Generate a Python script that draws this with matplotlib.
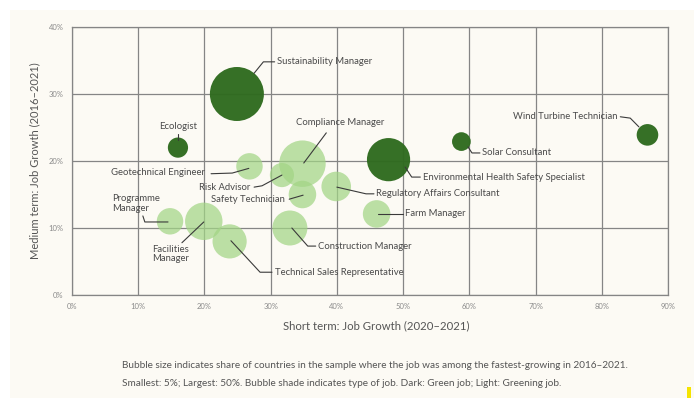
import matplotlib
matplotlib.use("Agg")
import matplotlib.pyplot as plt
from matplotlib.patches import Rectangle

plt.rcParams['font.family'] = ['Lato', 'DejaVu Sans']

# ---- data ----
jobs = ["Sustainability Manager", "Ecologist", "Geotechnical Engineer", "Compliance Manager",
        "Risk Advisor", "Safety Technician", "Regulatory Affairs Consultant", "Farm Manager",
        "Environmental Health Safety Specialist", "Solar Consultant", "Wind Turbine Technician",
        "Programme\nManager", "Facilities\nManager", "Technical Sales Representative",
        "Construction Manager"]
short_term = [24.9, 16.0, 26.8, 34.8, 31.7, 34.8, 39.9, 46.0, 47.8, 58.8, 86.9, 14.8, 19.9, 23.8, 32.9]
medium_term = [30.0, 22.0, 19.2, 19.6, 17.9, 15.0, 16.2, 12.1, 20.2, 22.9, 23.9, 11.0, 11.0, 8.0, 10.0]
share = [50, 7, 12, 37, 10, 13, 15, 13, 32, 6, 8, 12, 24, 20, 21]
job_type = ["Green", "Green", "Greening", "Greening", "Greening", "Greening", "Greening", "Greening",
            "Green", "Green", "Green", "Greening", "Greening", "Greening", "Greening"]
x_ticks = [0, 10, 20, 30, 40, 50, 60, 70, 80, 90]
y_ticks = [0, 10, 20, 30, 40]

# ---- label layout (text anchor, alignment, leader path) ----
labels = [
    ((31.0, 34.8), 'left', [(30.6, 34.8), (28.9, 34.8), (27.5, 33.1)]),
    ((16.0, 25.1), 'center', [(16.0, 24.1), (16.0, 23.2)]),
    ((20.1, 18.3), 'right', [(21.0, 18.1), (24.2, 18.2), (26.7, 18.9)]),
    ((40.5, 25.7), 'center', [(38.4, 24.2), (35.0, 19.7)]),
    ((26.9, 16.1), 'right', [(27.5, 16.1), (28.7, 16.3), (31.7, 17.9)]),
    ((32.2, 14.3), 'right', [(32.8, 14.3), (34.9, 14.9)]),
    ((45.9, 15.1), 'left', [(40.0, 16.1), (44.4, 15.1), (45.6, 15.1)]),
    ((50.3, 12.1), 'left', [(46.2, 12.1), (50.0, 12.1)]),
    ((53.0, 17.6), 'left', [(50.3, 19.1), (51.3, 17.6), (52.6, 17.6)]),
    ((61.9, 21.2), 'left', [(59.8, 22.1), (60.4, 21.2), (61.6, 21.2)]),
    ((82.3, 26.6), 'right', [(82.8, 26.6), (84.3, 26.4), (85.6, 25.1)]),
    ((6.0, 13.7), 'left', [(10.7, 11.8), (11.0, 10.9), (14.5, 10.9)]),
    ((12.1, 6.1), 'left', [(16.6, 7.8), (19.9, 10.9)]),
    ((30.7, 3.4), 'left', [(24.0, 8.1), (28.4, 3.4), (30.2, 3.4)]),
    ((37.1, 7.3), 'left', [(33.2, 10.0), (35.6, 7.3), (36.8, 7.3)]),
]

W, H = 694, 398
fig = plt.figure(figsize=(W / 100, H / 100), dpi=100)
fig.patch.set_facecolor('white')
cream = '#fcfaf4'
fig.add_artist(Rectangle((10 / W, 0), 1, 1 - 10 / H, transform=fig.transFigure,
                         facecolor=cream, edgecolor='none', zorder=0))
fig.add_artist(Rectangle((687 / W, 0), 4 / W, 11 / H, transform=fig.transFigure,
                         facecolor='#f5e400', edgecolor='none', zorder=1))

ax = fig.add_axes([72 / W, 1 - 295 / H, (668 - 72) / W, (295 - 27) / H])
ax.set_facecolor(cream)
ax.set_xlim(0, 90)
ax.set_ylim(0, 40)
ax.set_xticks(x_ticks)
ax.set_yticks(y_ticks)
ax.set_xticklabels([f"{v}%" for v in x_ticks])
ax.set_yticklabels([f"{v}%" for v in y_ticks])
ax.tick_params(length=0, labelsize=5.5, colors='#8a8a8a', pad=6)
ax.grid(True, color='#858585', linewidth=0.9)
ax.set_axisbelow(True)
for s in ax.spines.values():
    s.set_color('#858585')
    s.set_linewidth(0.9)

dark = '#2f6b1f'
light = '#a2d585'
scale = 1512 / 50
for x, y, sh, t in zip(short_term, medium_term, share, job_type):
    if t == "Green":
        ax.scatter(x, y, s=sh * scale, color=dark, alpha=0.97, edgecolors='none', zorder=3)
    else:
        ax.scatter(x, y, s=sh * scale, color=light, alpha=0.72, edgecolors='none', zorder=3)

tc = '#4a4a4a'
for name, (pos, ha, path) in zip(jobs, labels):
    ax.text(pos[0], pos[1], name, ha=ha, va='center', fontsize=6.8, color=tc,
            zorder=5, linespacing=1.1)
    xs = [p[0] for p in path]
    ys = [p[1] for p in path]
    ax.plot(xs, ys, color='#3a3a3a', linewidth=0.8, zorder=4, solid_capstyle='round')

fig.text(35 / W, 1 - 161 / H, "Medium term: Job Growth (2016–2021)", rotation=90,
         ha='center', va='center', fontsize=8, color='#555555')
fig.text(376 / W, 1 - 326 / H, "Short term: Job Growth (2020–2021)",
         ha='center', va='center', fontsize=8.2, color='#555555')
fig.text(122 / W, 1 - 366 / H,
         "Bubble size indicates share of countries in the sample where the job was among the fastest-growing in 2016–2021.",
         ha='left', va='center', fontsize=7.2, color='#555555')
fig.text(122 / W, 1 - 383 / H,
         "Smallest: 5%; Largest: 50%. Bubble shade indicates type of job. Dark: Green job; Light: Greening job.",
         ha='left', va='center', fontsize=7.2, color='#555555')

fig.savefig('out.png', dpi=100, facecolor=fig.get_facecolor())
